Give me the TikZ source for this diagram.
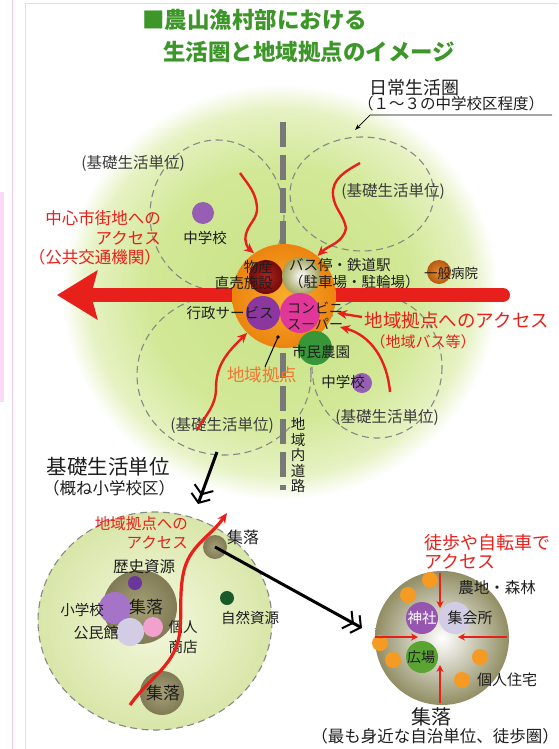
\documentclass[tikz,border=0pt]{standalone}
\usepackage{fontspec}
\setmainfont{Noto Sans CJK JP}
\usetikzlibrary{arrows.meta}

\definecolor{titlegreen}{RGB}{60,150,40}
\definecolor{pinkline}{RGB}{240,200,235}
\definecolor{pinkpale}{RGB}{250,218,245}
\definecolor{framegreen}{RGB}{215,235,180}
\definecolor{blobin}{RGB}{200,226,135}
\definecolor{blobmid}{RGB}{210,232,150}
\definecolor{blobedge}{RGB}{230,242,195}
\definecolor{dashgray}{RGB}{135,135,135}
\definecolor{unitgray}{RGB}{60,60,60}
\definecolor{roadgray}{RGB}{120,120,120}
\definecolor{accred}{RGB}{232,32,28}
\definecolor{hubin}{RGB}{248,172,45}
\definecolor{hubout}{RGB}{236,132,15}
\definecolor{hubtext}{RGB}{240,120,50}
\definecolor{shopin}{RGB}{175,35,30}
\definecolor{shopout}{RGB}{115,10,10}
\definecolor{stationout}{RGB}{160,160,90}
\definecolor{adminpurple}{RGB}{140,55,160}
\definecolor{storemag}{RGB}{225,55,155}
\definecolor{gardengreen}{RGB}{55,150,55}
\definecolor{hospin}{RGB}{235,140,40}
\definecolor{hospout}{RGB}{180,90,20}
\definecolor{schoolpurple}{RGB}{150,95,180}
\definecolor{unitin}{RGB}{244,248,222}
\definecolor{unitout}{RGB}{216,230,168}
\definecolor{olivein}{RGB}{165,160,118}
\definecolor{oliveout}{RGB}{128,123,86}
\definecolor{histpurple}{RGB}{105,55,155}
\definecolor{elempurple}{RGB}{165,115,200}
\definecolor{halllav}{RGB}{210,205,228}
\definecolor{shoppink}{RGB}{242,160,205}
\definecolor{natgreen}{RGB}{25,90,40}
\definecolor{hamletolive}{RGB}{145,142,100}
\definecolor{houseorange}{RGB}{245,155,35}
\definecolor{shrinepurple}{RGB}{150,85,175}
\definecolor{plazagreen}{RGB}{90,165,50}
\definecolor{inkblack}{RGB}{30,30,30}

\newcommand{\fsz}[2]{\fontsize{#1}{#2}\selectfont}

\pgfdeclareradialshading{blobshade}{\pgfpoint{0bp}{0bp}}{%
  color(0bp)=(blobin); color(15bp)=(blobmid); color(22bp)=(blobedge);
  color(25bp)=(white); color(50bp)=(white)}

\begin{document}
\begin{tikzpicture}[x=1pt,y=-1pt,
  title/.style={text=titlegreen,font=\fsz{22.5}{25}\bfseries,inner sep=0pt,anchor=west},
  unit/.style={draw=dashgray,line width=1.1pt,dash pattern=on 7pt off 4.5pt},
  unitlbl/.style={text=unitgray,font=\fsz{15.5}{17},inner sep=0pt},
  lbl/.style={text=inkblack,font=\fsz{14.5}{16.5},inner sep=0pt},
  redlbl/.style={text=accred,font=\fsz{16.5}{19.5},inner sep=0pt},
  spot/.style={circle,inner sep=0pt,minimum size=#1},
  acc/.style={draw=accred,line width=2.4pt,-{Stealth[length=10pt,width=9pt]}},
  walk/.style={draw=accred,line width=1.8pt,-{Stealth[length=7pt,width=7pt]}},
  link/.style={draw=black,line width=3pt,-{Straight Barb[length=7pt,width=20pt,line width=2pt] Straight Barb[length=7pt,width=20pt,line width=2pt]}},
]
\useasboundingbox (0,0) rectangle (558,749);

% page frame
\fill[pinkpale] (0,192) rectangle (4,402);
\draw[pinkline,line width=0.8pt] (12,0) -- (12,749);
\draw[framegreen,line width=0.8pt] (25,749) -- (25,3) -- (558,3);

% title
\node[title] (title1) at (142,20) {■農山漁村部における};
\node[title] (title2) at (163,52) {生活圏と地域拠点のイメージ};

% daily life sphere
\shade[shading=blobshade] (280,292) ellipse (218 and 208);
\node[inner sep=0pt,anchor=west,text=inkblack,font=\fsz{18}{20}] (daily) at (369,88) {日常生活圏};
\node[lbl,anchor=west,font=\fsz{15.5}{17}] (daily-sub) at (358,104) {（１～３の中学校区程度）};
\coordinate (daily-end) at (552,115);
\coordinate (daily-bend) at (370,115);
\coordinate (daily-tip) at (355,130);
\draw[line width=0.7pt,-{Stealth[length=6pt,width=4pt]}] (daily-end) -- (daily-bend) -- (daily-tip);

% basic units
\draw[unit] (217,215) ellipse (67 and 75);
\draw[unit] (362,194) ellipse (72 and 57);
\draw[unit] (224,375) ellipse (87 and 80);
\draw[unit] (377,367) ellipse (65 and 71);
\node[unitlbl] (unit-nw) at (133,164) {(基礎生活単位)};
\node[unitlbl] (unit-ne) at (393,192) {(基礎生活単位)};
\node[unitlbl] (unit-sw) at (222,425) {(基礎生活単位)};
\node[unitlbl] (unit-se) at (387,417) {(基礎生活単位)};

% road
\coordinate (road-n) at (283,122);
\coordinate (road-s) at (283,490);
\draw[roadgray,line width=6pt,dash pattern=on 25pt off 8pt] (road-n) -- (road-s);
\node[lbl,align=center,font=\fsz{14.5}{15.5}] (road) at (298,455) {地\\域\\内\\道\\路};

% schools
\node[spot=22pt,fill=schoolpurple] (jhs-nw) at (203,213) {};
\node[lbl] (jhs-nw-l) at (205,238) {中学校};
\node[spot=20pt,fill=schoolpurple] (jhs-se) at (362,383) {};
\node[lbl] (jhs-se-l) at (343,382) {中学校};

% access to the city centre
\coordinate (city) at (57,295);
\coordinate (trunk) at (503,295);
\draw[accred,line width=14pt,line cap=round,-{Stealth[length=40pt,width=48pt,inset=6pt]}] (trunk) -- (city);
\node[redlbl,align=right,anchor=east] (city-l) at (161,238) {中心市街地への\\アクセス\\（公共交通機関）};

% hospital
\node[spot=24pt,shade,inner color=hospin,outer color=hospout] (hosp) at (439,272) {};
\node[lbl,font=\fsz{13.5}{15}] (hosp-l) at (451,273) {一般病院};

% hub
\node[spot=104pt,shade,inner color=hubin,outer color=hubout] (hub) at (284,296) {};
\node[spot=34pt,shade,inner color=shopin,outer color=shopout] (farmshop) at (266,277) {};
\node[spot=38pt,shade,inner color=white,outer color=stationout] (station) at (301,276) {};
\node[spot=34pt,fill=adminpurple] (admin) at (263,313) {};
\node[spot=34pt,fill=gardengreen] (garden) at (315,348) {};
\node[spot=40pt,fill=storemag] (store) at (300,313) {};
\node[lbl,align=right,anchor=east] (farmshop-l) at (273,275) {物産\\直売施設};
\node[lbl,align=left,anchor=west,font=\fsz{14.5}{17}] (station-l) at (289,274) {バス停・鉄道駅\\（駐車場・駐輪場）};
\node[lbl] (admin-l) at (230,313) {行政サービス};
\node[lbl,align=left,anchor=west,font=\fsz{14}{15.5}] (store-l) at (287,316) {コンビニ\\スーパー};
\node[lbl] (garden-l) at (321,352) {市民農園};
\node[inner sep=0pt,text=hubtext,font=\fsz{17.5}{19}] (hub-l) at (262,375) {地域拠点};
\coordinate (hub-dot) at (278,337);
\fill (hub-dot) circle (1.8);
\draw[line width=1pt] ([xshift=3pt]hub-l.north) -- (hub-dot);

% access to the hub
\coordinate (acc-nw) at (240,173);
\coordinate (acc-ne) at (360,163);
\coordinate (acc-sw) at (197,430);
\coordinate (acc-se) at (390,392);
\coordinate (acc-se-tip) at (340,327);
\coordinate (acc-bus) at (362,317);
\coordinate (acc-bus-tip) at (337,313);
\draw[acc] (acc-nw) to[out=-55,in=95] (257,207) to[out=-85,in=75] (246,234) to[out=-105,in=140] (hub.125);
\draw[acc] (acc-ne) to[out=-150,in=95] (333,195) to[out=-85,in=100] (346,228) to[out=-100,in=45] (hub.50);
\draw[acc] (acc-sw) to[out=60,in=-90] (216,388) to[out=90,in=-135] (hub.225);
\draw[acc] (acc-se) to[out=95,in=-15] (acc-se-tip);
\draw[acc] (acc-bus) -- (acc-bus-tip);
\node[redlbl,font=\fsz{18.5}{20}] (bus-l) at (457,320) {地域拠点へのアクセス};
\node[redlbl,font=\fsz{15}{17}] (bus-sub) at (423,342) {（地域バス等）};

% basic unit in detail
\node[inner sep=0pt,text=inkblack,font=\fsz{20.5}{22}] (basic) at (108,467) {基礎生活単位};
\node[lbl,font=\fsz{16.5}{18}] (basic-sub) at (109,488) {（概ね小学校区）};
\shadedraw[unit,inner color=unitin,outer color=unitout] (155,621) ellipse (117 and 109);
\coordinate (zoom-from) at (217,452);
\coordinate (zoom-to) at (198,504);
\draw[link] (zoom-from) -- (zoom-to);

\node[spot=74pt,shade,inner color=olivein,outer color=oliveout] (village) at (140,607) {};
\node[spot=14pt,fill=histpurple] (hist) at (135,583) {};
\node[spot=32pt,fill=elempurple] (elem) at (115,608) {};
\node[spot=28pt,fill=halllav] (hall) at (130,632) {};
\node[spot=20pt,fill=shoppink] (shop) at (153,627) {};
\node[lbl,font=\fsz{15.5}{17}] (hist-l) at (144,567) {歴史資源};
\node[lbl] (elem-l) at (82,610) {小学校};
\node[lbl,font=\fsz{17}{19}] (village-l) at (146,607) {集落};
\node[lbl,font=\fsz{15}{17}] (hall-l) at (96,633) {公民館};
\node[lbl,align=left,font=\fsz{14.5}{20}] (shop-l) at (183,637) {個人\\商店};

\node[spot=24pt,shade,inner color=olivein,outer color=oliveout] (hamlet-ne) at (215,547) {};
\node[lbl,font=\fsz{16}{18}] (hamlet-ne-l) at (243,537) {集落};
\node[spot=14pt,fill=natgreen] (nature) at (227,598) {};
\node[lbl] (nature-l) at (250,618) {自然資源};
\node[spot=44pt,shade,inner color=olivein,outer color=oliveout] (hamlet-s) at (162,693) {};
\node[lbl,font=\fsz{17}{19}] (hamlet-s-l) at (163,693) {集落};

\coordinate (route-s) at (130,705);
\coordinate (route-n) at (227,513);
\draw[acc,line width=3.2pt] (route-s) to[out=55,in=-95] (180,630) to[out=85,in=-100] (183,575) to[out=80,in=-125] (route-n);
\node[redlbl,align=right,anchor=east,font=\fsz{15.5}{19}] (route-l) at (188,533) {地域拠点への\\アクセス};

% hamlet in detail
\coordinate (zoom2-to) at (362,628);
\draw[link] (hamlet-ne.center) -- (zoom2-to);
\node[spot=134pt,shade,inner color=white,outer color=hamletolive] (hamlet) at (442,638) {};
\foreach \p in {(430,580),(408,595),(380,643),(393,660),(480,657),(462,680)}
  \fill[houseorange] \p circle (8);
\node[spot=32pt,fill=halllav] (meeting) at (455,618) {};
\node[spot=32pt,fill=shrinepurple] (shrine) at (422,618) {};
\node[spot=32pt,fill=plazagreen] (plaza) at (422,657) {};
\node[lbl,text=white] (shrine-l) at (422,618) {神社};
\node[lbl,font=\fsz{15}{17}] (meeting-l) at (470,618) {集会所};
\node[lbl,font=\fsz{14}{16}] (plaza-l) at (421,657) {広場};

\coordinate (walk-n) at (440,573);
\coordinate (walk-n-tip) at (440,608);
\coordinate (walk-w) at (375,637);
\coordinate (walk-w-tip) at (418,637);
\coordinate (walk-e) at (507,637);
\coordinate (walk-e-tip) at (458,637);
\coordinate (walk-s) at (440,703);
\coordinate (walk-s-tip) at (440,665);
\foreach \a/\b in {walk-n/walk-n-tip,walk-w/walk-w-tip,walk-e/walk-e-tip,walk-s/walk-s-tip}
  \draw[walk] (\a) -- (\b);

\node[lbl,font=\fsz{15.5}{17}] (field-l) at (497,588) {農地・森林};
\node[lbl,font=\fsz{15}{17}] (house-l) at (507,680) {個人住宅};
\node[redlbl,align=left,anchor=west,font=\fsz{18}{19.5}] (walk-l) at (424,552) {徒歩や自転車で\\アクセス};
\node[inner sep=0pt,text=inkblack,font=\fsz{20}{22}] (hamlet-l) at (431,717) {集落};
\node[lbl,font=\fsz{16.5}{18}] (hamlet-sub) at (435,736) {（最も身近な自治単位、徒歩圏）};
\end{tikzpicture}
\end{document}
